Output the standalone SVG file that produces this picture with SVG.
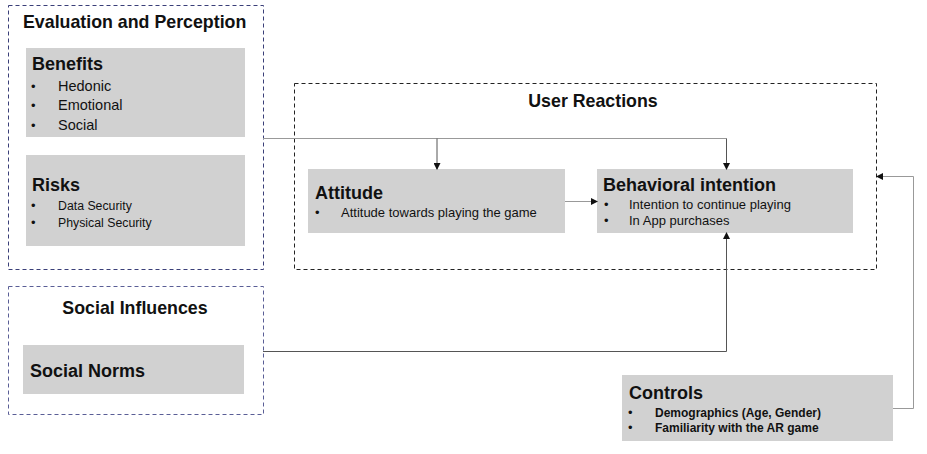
<svg xmlns="http://www.w3.org/2000/svg" width="927" height="454" viewBox="0 0 927 454">
<style>
text{font-family:"Liberation Sans",Arial,sans-serif;fill:#111}
.grp{fill:none;stroke-width:1;stroke-dasharray:4 3}
.blue{stroke:#3a3f78}
.blue2{stroke:#5a5e96}
.blk{stroke:#222}
.box{fill:#d1d1d1}
.h1{font-size:17.8px;font-weight:bold}
.h2{font-size:18px;font-weight:bold}
.t14{font-size:14.5px}
.t13{font-size:13px}
.t12{font-size:12.3px}
.b12{font-size:12px;font-weight:bold}
.bul{font-size:13px}
.ln{fill:none;stroke:#555;stroke-width:1}
.lg{fill:none;stroke:#999;stroke-width:1}
</style>
<defs>
<marker id="ah" markerWidth="7" markerHeight="7" refX="6" refY="3.5" orient="auto" markerUnits="userSpaceOnUse">
<path d="M0,0 L7,3.5 L0,7 z" fill="#111"/>
</marker>
</defs>

<g id="evaluation-perception">
<rect class="grp blue" x="8.5" y="5.5" width="255" height="264"/>
<text class="h1" x="23" y="28">Evaluation and Perception</text>
</g>
<g id="benefits">
<rect class="box" x="26" y="48" width="219" height="89"/>
<text class="h2" x="32" y="70">Benefits</text>
<text class="bul" x="31" y="91">•</text><text class="t14" x="58" y="91">Hedonic</text>
<text class="bul" x="31" y="110">•</text><text class="t14" x="58" y="110">Emotional</text>
<text class="bul" x="31" y="130">•</text><text class="t14" x="58" y="130">Social</text>
</g>
<g id="risks">
<rect class="box" x="26" y="155" width="219" height="91"/>
<text class="h2" x="32" y="191">Risks</text>
<text class="bul" x="31" y="210">•</text><text class="t12" x="58" y="210">Data Security</text>
<text class="bul" x="31" y="227">•</text><text class="t12" x="58" y="227">Physical Security</text>
</g>

<g id="social-influences">
<rect class="grp blue2" x="8.5" y="286.5" width="255" height="128"/>
<text class="h1" x="135" y="314" text-anchor="middle">Social Influences</text>
</g>
<g id="social-norms">
<rect class="box" x="23" y="345" width="221" height="49"/>
<text class="h2" x="30" y="377">Social Norms</text>
</g>

<g id="user-reactions">
<rect class="grp blk" x="294.5" y="83.5" width="582" height="186"/>
<text class="h1" x="593" y="107" text-anchor="middle">User Reactions</text>
</g>
<g id="attitude">
<rect class="box" x="308" y="169" width="257" height="64"/>
<text class="h2" x="315" y="199">Attitude</text>
<text class="bul" x="315" y="217">•</text><text class="t13" x="341" y="217">Attitude towards playing the game</text>
</g>
<g id="behavioral-intention">
<rect class="box" x="597" y="169" width="256" height="64"/>
<text class="h2" x="603" y="191">Behavioral intention</text>
<text class="bul" x="604" y="209">•</text><text class="t13" x="629" y="209">Intention to continue playing</text>
<text class="bul" x="604" y="225">•</text><text class="t13" x="629" y="225">In App purchases</text>
</g>

<g id="controls">
<rect class="box" x="622" y="375" width="271" height="66"/>
<text class="h2" x="629" y="399">Controls</text>
<text class="bul" x="628" y="417">•</text><text class="b12" x="655" y="417">Demographics (Age, Gender)</text>
<text class="bul" x="628" y="432">•</text><text class="b12" x="655" y="432">Familiarity with the AR game</text>
</g>

<g id="connectors">
<path class="lg" d="M263,138.5 H726.5"/>
<path class="ln" d="M437,138.5 V169" marker-end="url(#ah)"/>
<path class="ln" d="M726.5,138.5 V169" marker-end="url(#ah)"/>
<path class="lg" d="M565,201.5 H597" marker-end="url(#ah)"/>
<path class="ln" d="M263,351.5 H726.5 V233" marker-end="url(#ah)"/>
<path class="lg" d="M893,408.5 H913.5 V176.5 H877" marker-end="url(#ah)"/>
</g>
</svg>
